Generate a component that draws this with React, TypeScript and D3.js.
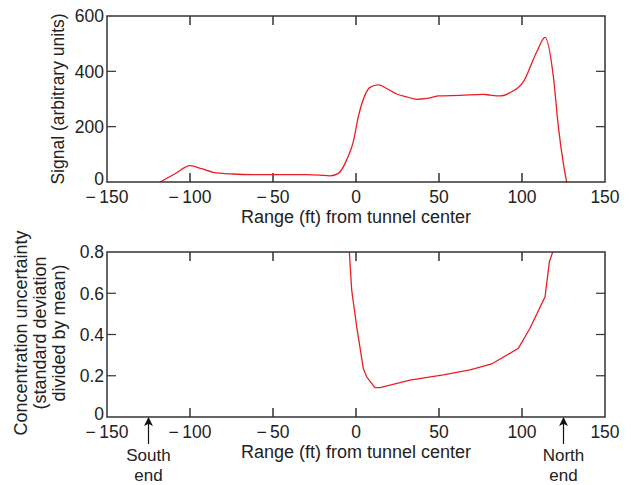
import React, { useRef, useEffect } from "react";
import * as d3 from "d3";

// signal vs range (top panel)
const signalRange = [-118, -109, -100, -93, -86, -74, -62, -45, -30, -21.7, -15.7, -10.6, -5.6, -1.6, 1.4, 5.4, 8.4, 13.4, 18.5, 24.5, 30.5, 36.5, 42.6, 49.6, 62.7, 76.7, 80.7, 86.7, 92.8, 100.8, 108.9, 113.9, 118.9, 121.9, 124.9, 126.9];
const signalValues = [0, 30, 59, 48, 35, 29, 27, 27, 27, 25, 22, 31, 80, 146, 236, 314, 342, 351, 338, 318, 308, 299, 302, 311, 313, 317, 314, 311, 323, 362, 471, 523, 381, 200, 67, 0];

// uncertainty vs range (bottom panel)
const uncRange = [-4, -2.6, 0.4, 4.4, 6.4, 11.4, 14.5, 32.5, 52.6, 68.7, 81.7, 97.8, 104.8, 113.9, 116.5, 118.5];
const uncValues = [0.8, 0.616, 0.438, 0.236, 0.195, 0.142, 0.142, 0.179, 0.204, 0.228, 0.257, 0.333, 0.43, 0.583, 0.753, 0.8];

const xTicks = [-150, -100, -50, 0, 50, 100, 150];
const signalTicks = [0, 200, 400, 600];
const uncTicks = [0, 0.2, 0.4, 0.6, 0.8];
const xTitle = "Range (ft) from tunnel center";
const signalTitle = "Signal (arbitrary units)";
const uncTitle = ["Concentration uncertainty", "(standard deviation", "divided by mean)"];
const ends = [
  { x: -125, label: ["South", "end"] },
  { x: 125, label: ["North", "end"] },
];

const W = 631;
const H = 485;
const FONT = "'Liberation Sans', Arial, sans-serif";
const AXIS = "#333";
const RED = "#ec1c24";
const TICK_FS = "17.5px";
const TITLE_FS = "18px";

const fmtX = (d: number) => (d < 0 ? `\u2212\u2009${Math.abs(d)}` : `${d}`);

const App = () => {
  const svgRef = useRef<SVGSVGElement>(null);

  useEffect(() => {
    const svg = d3.select(svgRef.current);
    svg.selectAll("*").remove();

    const left = 107;
    const right = 605;
    const x = d3.scaleLinear().domain([-150, 150]).range([left, right]);

    const panel = (
      top: number,
      bottom: number,
      domain: [number, number],
      yTicks: number[],
      fmtY: (d: number) => string,
      xs: number[],
      ys: number[],
      curve: d3.CurveFactory
    ) => {
      const y = d3.scaleLinear().domain(domain).range([bottom, top]);
      const g = svg.append("g");

      // inward ticks on all four sides
      const inner = xTicks.slice(1, -1);
      [bottom, top].forEach((yy, k) => {
        g.selectAll(`.tx${k}`)
          .data(inner)
          .enter()
          .append("line")
          .attr("x1", (d) => x(d))
          .attr("x2", (d) => x(d))
          .attr("y1", yy)
          .attr("y2", k === 0 ? yy - 9 : yy + 9)
          .attr("stroke", AXIS)
          .attr("stroke-width", 1.5);
      });
      [left, right].forEach((xx, k) => {
        g.selectAll(`.ty${k}`)
          .data(yTicks.slice(1, -1))
          .enter()
          .append("line")
          .attr("x1", xx)
          .attr("x2", k === 0 ? xx + 9 : xx - 9)
          .attr("y1", (d) => y(d))
          .attr("y2", (d) => y(d))
          .attr("stroke", AXIS)
          .attr("stroke-width", 1.2);
      });

      // curve
      const clipId = `clip${top}`;
      g.append("clipPath")
        .attr("id", clipId)
        .append("rect")
        .attr("x", left)
        .attr("y", top)
        .attr("width", right - left)
        .attr("height", bottom - top);
      const line = d3
        .line<number>()
        .x((d, i) => x(xs[i]))
        .y((d) => y(d))
        .curve(curve);
      g.append("path")
        .attr("d", line(ys))
        .attr("fill", "none")
        .attr("stroke", RED)
        .attr("stroke-width", 1.3)
        .attr("clip-path", `url(#${clipId})`);

      // frame
      g.append("rect")
        .attr("x", left)
        .attr("y", top)
        .attr("width", right - left)
        .attr("height", bottom - top)
        .attr("fill", "none")
        .attr("stroke", AXIS)
        .attr("stroke-width", 1.5);

      // labels
      g.selectAll(".xl")
        .data(xTicks)
        .enter()
        .append("text")
        .attr("x", (d) => x(d))
        .attr("y", bottom + 21)
        .attr("text-anchor", "middle")
        .style("font-family", FONT)
        .style("font-size", TICK_FS)
        .attr("fill", "#222")
        .text(fmtX);
      g.selectAll(".yl")
        .data(yTicks)
        .enter()
        .append("text")
        .attr("x", left - 3)
        .attr("y", (d) => y(d))
        .attr("dy", (d) => (d === domain[0] ? "0.15em" : "0.36em"))
        .attr("text-anchor", "end")
        .style("font-family", FONT)
        .style("font-size", TICK_FS)
        .attr("fill", "#222")
        .text(fmtY);
      g.append("text")
        .attr("x", x(0))
        .attr("y", bottom + 41)
        .attr("text-anchor", "middle")
        .style("font-family", FONT)
        .style("font-size", TITLE_FS)
        .attr("fill", "#222")
        .text(xTitle);
      return y;
    };

    panel(16, 182, [0, 600], signalTicks, (d) => `${d}`, signalRange, signalValues, d3.curveMonotoneX);
    panel(252, 417, [0, 0.8], uncTicks, (d) => (d === 0 ? "0" : d.toFixed(1)), uncRange, uncValues, d3.curveLinear);

    // y titles
    svg
      .append("text")
      .attr("transform", `translate(64,${(16 + 182) / 2}) rotate(-90)`)
      .attr("text-anchor", "middle")
      .style("font-family", FONT)
      .style("font-size", "17.5px")
      .attr("fill", "#222")
      .text(signalTitle);
    uncTitle.forEach((t, i) => {
      svg
        .append("text")
        .attr("transform", `translate(${27 + i * 19},333) rotate(-90)`)
        .attr("text-anchor", "middle")
        .style("font-family", FONT)
        .style("font-size", TITLE_FS)
        .attr("fill", "#222")
        .text(t);
    });

    // end arrows
    svg
      .append("defs")
      .append("marker")
      .attr("id", "arrow")
      .attr("viewBox", "0 0 10 10")
      .attr("refX", 9)
      .attr("refY", 5)
      .attr("markerWidth", 9)
      .attr("markerHeight", 9)
      .attr("markerUnits", "userSpaceOnUse")
      .attr("orient", "auto")
      .append("path")
      .attr("d", "M0,0 L10,5 L0,10 L2.5,5 Z")
      .attr("fill", "#111");
    ends.forEach((e) => {
      svg
        .append("line")
        .attr("x1", x(e.x))
        .attr("x2", x(e.x))
        .attr("y1", 444)
        .attr("y2", 418)
        .attr("stroke", "#111")
        .attr("stroke-width", 1.2)
        .attr("marker-end", "url(#arrow)");
      e.label.forEach((t, i) => {
        svg
          .append("text")
          .attr("x", x(e.x))
          .attr("y", 461 + i * 20)
          .attr("text-anchor", "middle")
          .style("font-family", FONT)
          .style("font-size", "17px")
          .attr("fill", "#222")
          .text(t);
      });
    });
  }, []);

  return <svg ref={svgRef} width={W} height={H} style={{ position: "absolute", left: 0, top: 0 }} />;
};

export default App;
